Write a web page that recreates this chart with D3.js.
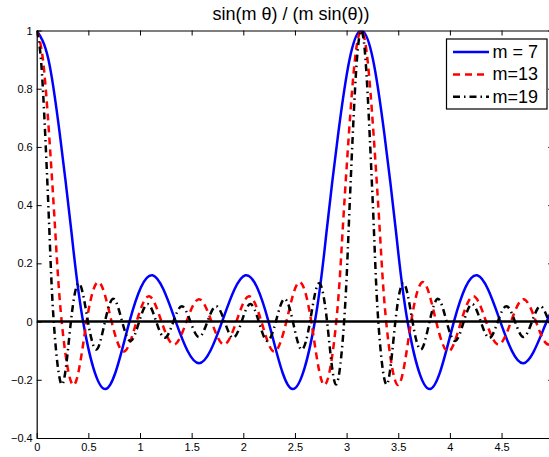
<!DOCTYPE html>
<html>
<head>
<meta charset="utf-8">
<script src="https://cdn.jsdelivr.net/npm/d3@7"></script>
<style>
  body { margin: 0; background: #fff; }
  svg { display: block; font-family: "Liberation Sans", Arial, Helvetica, sans-serif; }
</style>
</head>
<body>
<svg width="549" height="457"></svg>
<script>
// sin(m θ) / (m sin θ), values at zeros, peaks and troughs

const titleText = 'sin(m \u03b8) / (m sin(\u03b8))';
const seriesLabels = ['m = 7', 'm=13', 'm=19'];

const xTicks = [0, 0.5, 1, 1.5, 2, 2.5, 3, 3.5, 4, 4.5];
const xTickLabels = ['0', '0.5', '1', '1.5', '2', '2.5', '3', '3.5', '4', '4.5'];
const yTicks = [-0.4, -0.2, 0, 0.2, 0.4, 0.6, 0.8, 1];
const yTickLabels = ['\u22120.4', '\u22120.2', '0', '0.2', '0.4', '0.6', '0.8', '1'];

const m7Theta = [0, 0.112, 0.224, 0.337, 0.449, 0.665, 0.898, 1.122, 1.346, 1.571, 1.795, 2.020, 2.244, 2.477, 2.693,
  2.805, 2.918, 3.030, 3.142, 3.254, 3.366, 3.479, 3.590, 3.806, 4.039, 4.264, 4.488, 4.712, 4.937, 5.161];
const m7Value = [1, 0.903, 0.643, 0.306, 0, -0.232, 0, 0.159, 0, -0.143, 0, 0.159, 0, -0.232, 0,
  0.306, 0.643, 0.903, 1, 0.903, 0.643, 0.306, 0, -0.232, 0, 0.159, 0, -0.143, 0, 0.159];

const m13Theta = [0, 0.060, 0.121, 0.181, 0.242, 0.358, 0.483, 0.604, 0.725, 0.846, 0.967, 1.088, 1.208, 1.329,
  1.450, 1.571, 1.692, 1.812, 1.933, 2.054, 2.175, 2.296, 2.417, 2.537, 2.658, 2.783, 2.900, 2.960, 3.021,
  3.081, 3.142, 3.202, 3.262, 3.323, 3.383, 3.500, 3.625, 3.746, 3.867, 3.987, 4.108, 4.229, 4.350, 4.471,
  4.592, 4.712, 4.833, 4.954, 5.075];
const m13Value = [1, 0.901, 0.638, 0.302, 0, -0.218, 0, 0.135, 0, -0.103, 0, 0.087, 0, -0.079,
  0, 0.077, 0, -0.079, 0, 0.087, 0, -0.103, 0, 0.135, 0, -0.218, 0, 0.302, 0.638,
  0.901, 1, 0.901, 0.638, 0.302, 0, -0.218, 0, 0.135, 0, -0.103, 0, 0.087, 0, -0.079,
  0, 0.077, 0, -0.079, 0];

const m19Theta = [0, 0.041, 0.083, 0.124, 0.165, 0.246, 0.331, 0.413, 0.496, 0.579, 0.661, 0.744, 0.827, 0.909,
  0.992, 1.075, 1.157, 1.240, 1.323, 1.405, 1.488, 1.571, 1.653, 1.736, 1.819, 1.901, 1.984, 2.067, 2.150,
  2.232, 2.315, 2.398, 2.480, 2.563, 2.646, 2.728, 2.811, 2.896, 2.976, 3.018, 3.059, 3.100, 3.142, 3.183,
  3.224, 3.266, 3.307, 3.388, 3.472, 3.555, 3.638, 3.720, 3.803, 3.886, 3.968, 4.051, 4.134, 4.216, 4.299,
  4.382, 4.464, 4.547, 4.630, 4.712, 4.795, 4.878, 4.960, 5.043];
const m19Value = [1, 0.901, 0.637, 0.301, 0, -0.216, 0, 0.131, 0, -0.096, 0, 0.078, 0, -0.067,
  0, 0.060, 0, -0.056, 0, 0.053, 0, -0.053, 0, 0.053, 0, -0.056, 0, 0.060, 0,
  -0.067, 0, 0.078, 0, -0.096, 0, 0.131, 0, -0.216, 0, 0.301, 0.637, 0.901, 1, 0.901,
  0.637, 0.301, 0, -0.216, 0, 0.131, 0, -0.096, 0, 0.078, 0, -0.067, 0, 0.060, 0,
  -0.056, 0, 0.053, 0, -0.053, 0, 0.053, 0, -0.056];

const svg = d3.select('svg');

const plotLeft = 36.7, plotRight = 553.2, plotTop = 30.5, plotBottom = 438;

const x = d3.scaleLinear().domain([0, 5]).range([plotLeft, plotRight]);
const y = d3.scaleLinear().domain([-0.4, 1]).range([plotBottom, plotTop]);

svg.append('defs').append('clipPath').attr('id', 'plotclip')
  .append('rect')
    .attr('x', plotLeft).attr('y', plotTop)
    .attr('width', plotRight - plotLeft).attr('height', plotBottom - plotTop);

const series = [
  {label: seriesLabels[0], theta: m7Theta, value: m7Value, color: '#0000ff', dash: null},
  {label: seriesLabels[1], theta: m13Theta, value: m13Value, color: '#ff0000', dash: '7,5'},
  {label: seriesLabels[2], theta: m19Theta, value: m19Value, color: '#000000', dash: '7,4,1.5,4'}
];

const line = d3.line()
  .x(d => x(d[0]))
  .y(d => y(d[1]))
  .curve(d3.curveNatural);

const plot = svg.append('g').attr('clip-path', 'url(#plotclip)');

series.forEach(s => {
  plot.append('path')
    .datum(s.theta.map((t, i) => [t, s.value[i]]))
    .attr('fill', 'none')
    .attr('stroke', s.color)
    .attr('stroke-width', 2.5)
    .attr('stroke-dasharray', s.dash)
    .attr('d', line);
});

// zero line
plot.append('line')
  .attr('x1', x(0)).attr('x2', x(5))
  .attr('y1', y(0)).attr('y2', y(0))
  .attr('stroke', '#000')
  .attr('stroke-width', 2.5);

// axes, ticks inside like matlab
const fmtX = d => xTickLabels[xTicks.indexOf(d)];
const fmtY = d => yTickLabels[yTicks.indexOf(d)];

const gx = svg.append('g').attr('transform', `translate(0,${plotBottom})`)
  .call(d3.axisBottom(x).tickValues(xTicks).tickFormat(fmtX).tickSizeInner(-5).tickSizeOuter(0).tickPadding(5));
const gxTop = svg.append('g').attr('transform', `translate(0,${plotTop})`)
  .call(d3.axisTop(x).tickValues(xTicks).tickFormat('').tickSizeInner(-5).tickSizeOuter(0));
const gy = svg.append('g').attr('transform', `translate(${plotLeft},0)`)
  .call(d3.axisLeft(y).tickValues(yTicks).tickFormat(fmtY).tickSizeInner(-5).tickSizeOuter(0).tickPadding(4));
const gyRight = svg.append('g').attr('transform', `translate(${plotRight},0)`)
  .call(d3.axisRight(y).tickValues(yTicks).tickFormat('').tickSizeInner(-5).tickSizeOuter(0));

[gx, gxTop, gy, gyRight].forEach(g => {
  g.selectAll('.domain').attr('stroke', '#000').attr('stroke-width', 1.2);
  g.selectAll('.tick line').attr('stroke', '#000').attr('stroke-width', 1);
  g.selectAll('.tick text').attr('fill', '#000').style('font-size', '11px')
    .style('font-family', '"Liberation Sans", Arial, sans-serif');
});

// title
svg.append('text')
  .attr('x', 291)
  .attr('y', 20)
  .attr('text-anchor', 'middle')
  .style('font-size', '18px')
  .text(titleText);

// legend
const legend = svg.append('g');
legend.append('rect')
  .attr('x', 446.5).attr('y', 39)
  .attr('width', 100.5).attr('height', 70)
  .attr('fill', '#fff')
  .attr('stroke', '#000')
  .attr('stroke-width', 1.2);

series.forEach((s, i) => {
  const ly = 52 + i * 22.4;
  legend.append('line')
    .attr('x1', 453).attr('x2', 489)
    .attr('y1', ly).attr('y2', ly)
    .attr('stroke', s.color)
    .attr('stroke-width', 2.5)
    .attr('stroke-dasharray', s.dash);
  legend.append('text')
    .attr('x', 492.5).attr('y', ly + 6)
    .style('font-size', '18px')
    .text(s.label);
});
</script>
</body>
</html>
